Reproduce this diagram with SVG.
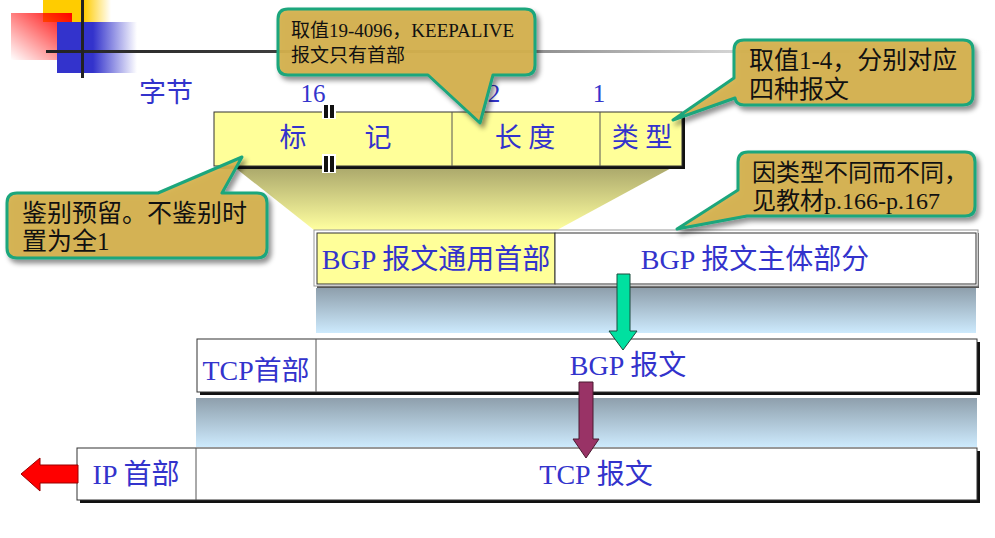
<svg xmlns="http://www.w3.org/2000/svg" width="995" height="538" viewBox="0 0 995 538">
<defs>
<linearGradient id="gYel" x1="0" y1="0" x2="1" y2="0"><stop offset="0" stop-color="#ffcc00"/><stop offset="0.6" stop-color="#ffcc00"/><stop offset="1" stop-color="#ffcc00" stop-opacity="0"/></linearGradient>
<linearGradient id="gRed" x1="1" y1="0" x2="0" y2="1"><stop offset="0" stop-color="#ff0000"/><stop offset="1" stop-color="#ff0000" stop-opacity="0"/></linearGradient>
<linearGradient id="gBlue" x1="0" y1="0" x2="1" y2="0"><stop offset="0" stop-color="#3333cc"/><stop offset="0.45" stop-color="#3333cc"/><stop offset="1" stop-color="#3333cc" stop-opacity="0"/></linearGradient>
<linearGradient id="gLine" x1="0" y1="0" x2="1" y2="0"><stop offset="0" stop-color="#222"/><stop offset="0.3" stop-color="#444"/><stop offset="0.7" stop-color="#ccc"/><stop offset="1" stop-color="#eee" stop-opacity="0"/></linearGradient>
<linearGradient id="gTrap" x1="0" y1="0" x2="0" y2="1"><stop offset="0" stop-color="#a9a66a"/><stop offset="1" stop-color="#ffffa0"/></linearGradient>
<linearGradient id="gBand" x1="0" y1="0" x2="0" y2="1"><stop offset="0" stop-color="#8e9fac"/><stop offset="1" stop-color="#cdeafd"/></linearGradient>
<filter id="sh" x="-10%" y="-10%" width="130%" height="140%"><feDropShadow dx="3" dy="4" stdDeviation="2.5" flood-color="#000" flood-opacity="0.45"/></filter>
</defs>
<style>
text{font-family:"Liberation Serif","Noto Sans CJK SC",serif}
.blue{fill:#3333cc}
.c{text-anchor:middle}
.call{fill:#d5b24f;fill-opacity:0.93;stroke:#1ba67c;stroke-width:3;stroke-linejoin:round;filter:url(#sh)}
.ct{fill:#111}
.box{fill:#fff;stroke:#333;stroke-width:1}
.shd{fill:#111}
.div{stroke:#555;stroke-width:1}
</style>

<g id="decoration">
<rect x="43" y="0" width="68" height="22" fill="url(#gYel)"/>
<rect x="11" y="13" width="61" height="47" fill="url(#gRed)"/>
<rect x="57" y="22" width="80" height="51" fill="url(#gBlue)"/>
<rect x="46" y="50" width="944" height="3" fill="url(#gLine)"/>
<rect x="81" y="0" width="3" height="78" fill="#222"/>
</g>

<g id="labels">
<text class="blue c" x="166" y="102" font-size="27">字节</text>
<text class="blue c" x="313" y="102" font-size="25">16</text>
<text class="blue c" x="494" y="102" font-size="25">2</text>
<text class="blue c" x="599" y="102" font-size="25">1</text>
</g>

<g id="zoom-trapezoid">
<polygon points="233,166 675,166 557,230 314,230" fill="url(#gTrap)"/>
</g>

<g id="header">
<rect x="217" y="115" width="468" height="54" class="shd"/>
<rect x="214" y="112" width="468" height="54" fill="#ffff99" stroke="#333" stroke-width="1"/>
<line x1="452" y1="112" x2="452" y2="166" class="div"/>
<line x1="600" y1="112" x2="600" y2="166" class="div"/>
<text class="blue c" x="293" y="147" font-size="27">标</text>
<text class="blue c" x="378" y="147" font-size="27">记</text>
<text class="blue c" x="525" y="147" font-size="27">长 度</text>
<text class="blue c" x="642" y="147" font-size="27">类 型</text>
<rect x="322" y="104" width="14" height="15" fill="#fff"/>
<rect x="324" y="105" width="4" height="13" fill="#111"/>
<rect x="330" y="105" width="4" height="13" fill="#111"/>
<rect x="322" y="154" width="14" height="19" fill="#fff"/>
<rect x="324" y="156" width="4" height="16" fill="#111"/>
<rect x="330" y="156" width="4" height="16" fill="#111"/>
</g>

<g id="bgp-message">
<rect x="317" y="233" width="662" height="55" fill="#555"/>
<rect x="314" y="230" width="664" height="56" fill="#fff" stroke="#999" stroke-width="1"/>
<rect x="317" y="233" width="238" height="51" fill="#ffff99" stroke="#333" stroke-width="1"/>
<rect x="555" y="233" width="421" height="51" fill="#fff" stroke="#333" stroke-width="1"/>
<text class="blue c" x="436" y="269" font-size="28">BGP 报文通用首部</text>
<text class="blue c" x="755" y="269" font-size="28">BGP 报文主体部分</text>
</g>

<g id="band1"><rect x="316" y="288" width="660" height="45" fill="url(#gBand)"/></g>

<g id="tcp-segment">
<rect x="200" y="342" width="780" height="53" class="shd"/>
<rect x="197" y="339" width="780" height="53" class="box"/>
<line x1="316" y1="339" x2="316" y2="392" class="div"/>
<text class="blue c" x="256" y="380" font-size="27" textLength="107" lengthAdjust="spacingAndGlyphs">TCP首部</text>
<text class="blue c" x="628" y="375" font-size="28">BGP 报文</text>
</g>

<g id="band2"><rect x="196" y="398" width="781" height="49" fill="url(#gBand)"/></g>

<g id="ip-datagram">
<rect x="80" y="451" width="900" height="52" class="shd"/>
<rect x="77" y="448" width="900" height="52" class="box"/>
<line x1="196" y1="448" x2="196" y2="500" class="div"/>
<text class="blue c" x="136" y="484" font-size="28">IP 首部</text>
<text class="blue c" x="596" y="484" font-size="28">TCP 报文</text>
</g>

<g id="connectors">
<polygon points="617,274 630,274 630,331 637,331 623,350 609,331 617,331" fill="#00e0a0" stroke="#1d4a3c" stroke-width="1"/>
<polygon points="579,382 593,382 593,439 599,439 586,458 573,439 579,439" fill="#993366" stroke="#4a1a30" stroke-width="1"/>
<polygon points="21,474 40,458 40,465 78,465 78,483 40,483 40,491" fill="#ff0000" stroke="#990000" stroke-width="1"/>
</g>

<g id="callout-length">
<path class="call" d="M288,9 H525 Q535,9 535,19 V65 Q535,75 525,75 H493 L480,123 L428,75 H288 Q278,75 278,65 V19 Q278,9 288,9 Z"/>
<text class="ct" x="291" y="37" font-size="19">取值19-4096，KEEPALIVE</text>
<text class="ct" x="291" y="62" font-size="19">报文只有首部</text>
</g>

<g id="callout-type">
<path class="call" d="M744,40 H963 Q973,40 973,50 V95 Q973,105 963,105 H744 Q736,105 735,98 L673,120 L734,78 V50 Q734,40 744,40 Z"/>
<text class="ct" x="749" y="69" font-size="25">取值1-4，分别对应</text>
<text class="ct" x="749" y="98" font-size="25">四种报文</text>
</g>

<g id="callout-body">
<path class="call" d="M748,152 H965 Q975,152 975,162 V206 Q975,216 965,216 H747 L677,229 L738,190 V162 Q738,152 748,152 Z"/>
<text class="ct" x="752" y="181" font-size="24">因类型不同而不同，</text>
<text class="ct" x="752" y="209" font-size="24">见教材p.166-p.167</text>
</g>

<g id="callout-marker">
<path class="call" d="M17,193 H158 L242,157 L222,193 H257 Q267,193 267,203 V248 Q267,258 257,258 H17 Q7,258 7,248 V203 Q7,193 17,193 Z"/>
<text class="ct" x="22" y="222" font-size="25">鉴别预留。不鉴别时</text>
<text class="ct" x="22" y="250" font-size="25">置为全1</text>
</g>
</svg>
